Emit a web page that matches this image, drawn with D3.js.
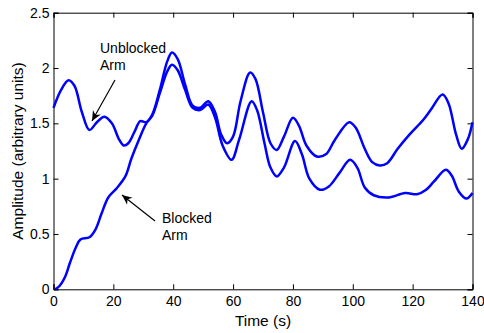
<!DOCTYPE html>
<html>
<head>
<meta charset="utf-8">
<script src="https://cdn.jsdelivr.net/npm/d3@7"></script>
<style>
  body { margin: 0; background: #fff; }
  svg text { font-family: "Liberation Sans", Arial, sans-serif; fill: #000; }
</style>
</head>
<body>
<div id="chart"></div>
<script>
// ==================== data ====================
const unblockedT = [0, 2.5, 5, 7, 9.5, 12, 14.5, 17, 19.5, 22, 23.5, 25, 27, 29, 31, 33, 35.5, 38, 39.6, 41.5, 44, 46.5, 49, 51.7, 54, 56, 58, 60, 62.5, 65.7, 67.5, 70, 72.5, 74.6, 77, 80, 82, 84.5, 88, 91, 94, 98.8, 101, 104, 106.5, 109, 111.5, 115, 119, 123.5, 126, 130, 132, 134.5, 136.4, 138.5, 140];
const unblockedV = [1.64, 1.80, 1.89, 1.84, 1.60, 1.44, 1.51, 1.56, 1.50, 1.35, 1.30, 1.32, 1.42, 1.52, 1.51, 1.58, 1.80, 2.06, 2.14, 2.08, 1.85, 1.66, 1.64, 1.70, 1.60, 1.40, 1.32, 1.38, 1.70, 1.96, 1.90, 1.60, 1.32, 1.26, 1.38, 1.55, 1.48, 1.30, 1.20, 1.22, 1.35, 1.51, 1.46, 1.27, 1.15, 1.12, 1.14, 1.27, 1.40, 1.53, 1.62, 1.76, 1.68, 1.40, 1.27, 1.36, 1.51];

const blockedT = [0.5, 2, 4, 5.5, 7.5, 9, 12, 14, 16, 18.3, 21, 24, 26, 28.5, 31, 33, 35.5, 38, 39.6, 41.5, 44, 46.5, 49, 51.7, 54, 56.5, 59.5, 62, 66.2, 68, 70.5, 72.5, 74.6, 77, 80.7, 83, 85.5, 89, 92, 95.5, 99.1, 101.5, 104, 107, 112, 117.5, 121.5, 124.5, 127, 131.1, 133, 135.5, 138, 140];
const blockedV = [0.0, 0.03, 0.12, 0.24, 0.38, 0.45, 0.47, 0.54, 0.68, 0.83, 0.91, 1.02, 1.18, 1.35, 1.50, 1.57, 1.77, 1.97, 2.03, 1.98, 1.80, 1.64, 1.62, 1.67, 1.55, 1.30, 1.17, 1.35, 1.70, 1.62, 1.32, 1.10, 1.02, 1.10, 1.34, 1.22, 1.00, 0.90, 0.93, 1.05, 1.17, 1.10, 0.92, 0.85, 0.83, 0.87, 0.86, 0.90, 0.97, 1.08, 1.03, 0.88, 0.82, 0.87];

const xTicks = [0, 20, 40, 60, 80, 100, 120, 140];
const yTicks = [0, 0.5, 1, 1.5, 2, 2.5];

// ==================== layout ====================
const W = 484, H = 333;
const margin = {left: 53.5, right: 11.5, top: 12.7, bottom: 43.7};

const svg = d3.select("#chart").append("svg")
    .attr("width", W)
    .attr("height", H);

const x = d3.scaleLinear().domain([0, 140]).range([margin.left, W - margin.right]);
const y = d3.scaleLinear().domain([0, 2.5]).range([H - margin.bottom, margin.top]);

// 坐标轴（刻度朝内，四边框）
const tickLen = 5;
svg.append("g")
    .attr("transform", `translate(0,${y(0)})`)
    .call(d3.axisBottom(x).tickValues(xTicks).tickSize(-tickLen).tickPadding(6.5).tickFormat(d3.format("d")))
    .call(g => g.selectAll("text").style("font-size", "14px"));

svg.append("g")
    .attr("transform", `translate(${x(0)},0)`)
    .call(d3.axisLeft(y).tickValues(yTicks).tickSize(-tickLen).tickPadding(4).tickFormat(d => d))
    .call(g => g.selectAll("text").style("font-size", "14px"));

svg.append("g")
    .attr("transform", `translate(0,${y(2.5)})`)
    .call(d3.axisTop(x).tickValues(xTicks).tickSize(-tickLen).tickFormat(""));

svg.append("g")
    .attr("transform", `translate(${x(140)},0)`)
    .call(d3.axisRight(y).tickValues(yTicks).tickSize(-tickLen).tickFormat(""));

svg.selectAll(".domain").attr("stroke", "#000").attr("stroke-width", 1);
svg.selectAll(".tick line").attr("stroke", "#000");

// 曲线
const line = d3.line()
    .x(d => x(d[0]))
    .y(d => y(d[1]))
    .curve(d3.curveCatmullRom.alpha(0.5));

const series = [
    d3.zip(unblockedT, unblockedV),
    d3.zip(blockedT, blockedV)
];

svg.selectAll(".series")
    .data(series)
    .join("path")
    .attr("class", "series")
    .attr("d", line)
    .attr("fill", "none")
    .attr("stroke", "#0000ff")
    .attr("stroke-width", 2.5);

// 轴标题
svg.append("text")
    .attr("x", (x(0) + x(140)) / 2)
    .attr("y", 326)
    .attr("text-anchor", "middle")
    .style("font-size", "15.5px")
    .text("Time (s)");

svg.append("text")
    .attr("transform", `translate(22.5,${(y(0) + y(2.5)) / 2}) rotate(-90)`)
    .attr("text-anchor", "middle")
    .style("font-size", "15.5px")
    .text("Amplitude (arbitrary units)");

// 注释箭头
svg.append("defs").append("marker")
    .attr("id", "arrow")
    .attr("viewBox", "0 -5 10 10")
    .attr("refX", 10)
    .attr("markerWidth", 10)
    .attr("markerHeight", 10)
    .attr("markerUnits", "userSpaceOnUse")
    .attr("orient", "auto")
    .append("path")
    .attr("d", "M0,-4.5L10,0L0,4.5L3,0Z")
    .attr("fill", "#000");

const notes = [
    {lines: ["Unblocked", "Arm"], tx: 100, ty: 53, from: [115, 80], to: [92, 121]},
    {lines: ["Blocked", "Arm"], tx: 162, ty: 223, from: [155, 221], to: [122, 195]}
];

notes.forEach(n => {
    svg.append("line")
        .attr("x1", n.from[0]).attr("y1", n.from[1])
        .attr("x2", n.to[0]).attr("y2", n.to[1])
        .attr("stroke", "#000")
        .attr("stroke-width", 1.2)
        .attr("marker-end", "url(#arrow)");
    const t = svg.append("text")
        .attr("x", n.tx).attr("y", n.ty)
        .style("font-size", "14px");
    n.lines.forEach((s, i) => {
        t.append("tspan").attr("x", n.tx).attr("dy", i === 0 ? 0 : 16.7).text(s);
    });
});
</script>
</body>
</html>
